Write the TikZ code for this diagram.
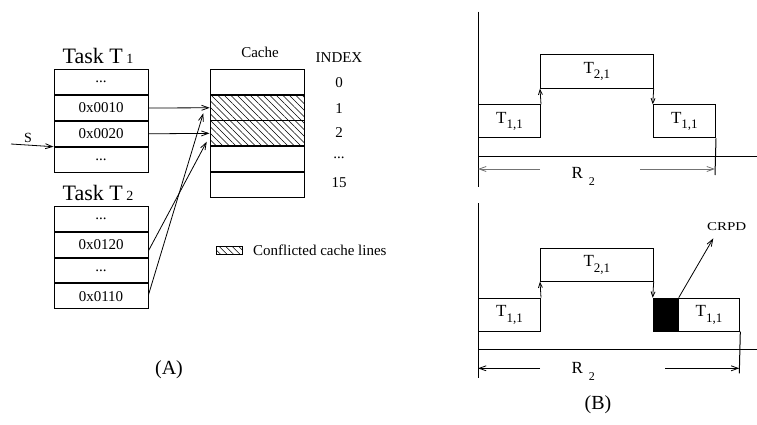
\documentclass[tikz,border=0pt]{standalone}
\usepackage{fontspec}
\setmainfont{Liberation Serif}
\usetikzlibrary{arrows.meta,patterns.meta,calc}
\newcommand{\fs}[1]{\fontsize{#1}{#1}\selectfont}
\newcommand{\tsub}[1]{T\raisebox{-5.5pt}{\fs{13}#1}}
\begin{document}
\begin{tikzpicture}[x=1pt,y=-1pt,
  row/.style={draw, line width=1pt, minimum width=94pt, minimum height=24.8pt, inner sep=0pt, anchor=north, font=\fs{15}},
  hatch/.style={pattern={Lines[angle=-45,distance=4.6pt,line width=0.55pt]}},
  barb/.style={-{Straight Barb[length=7pt,width=5pt]}, line width=0.8pt},
  sbarb/.style={-{Straight Barb[length=5pt,width=4pt]}, line width=0.8pt},
  lbl/.style={inner sep=0pt, font=\fs{15}},
  tbox/.style={draw, line width=1pt, inner sep=0pt, anchor=north west, font=\fs{17}},
  axis/.style={line width=1pt},
]
\useasboundingbox (0,0) rectangle (757,424);

% ---------- Panel A ----------
\node[inner sep=0pt] (lt1) at (98,56) {\fs{22}Task T\,{\fs{14}1}};
\node[row] (t1a) at (101,69.3) {...};
\node[row] (t1b) at (t1a.south) {0x0010};
\node[row] (t1c) at (t1b.south) {0x0020};
\node[row] (t1d) at (t1c.south) {...};

\node[inner sep=0pt] (lt2) at (98,193) {\fs{22}Task T\,{\fs{14}2}};
\node[row] (t2a) at (101,206) {...};
\node[row] (t2b) at (t2a.south) {0x0120};
\node[row] (t2c) at (t2b.south) {...};
\node[row] (t2d) at (t2c.south) {0x0110};

\node[lbl] (lc) at (260,52.7) {Cache};
\node[lbl] (lidx) at (339,58) {INDEX};
\node[row] (c0) at (257,69.3) {};
\node[row,hatch] (c1) at (c0.south) {};
\node[row,hatch] (c2) at (c1.south) {};
\node[row] (c3) at (c2.south) {};
\node[row] (c4) at (c3.south) {};

\node[lbl] (i0) at (339,83) {0};
\node[lbl] (i1) at (339,109) {1};
\node[lbl] (i2) at (339,133) {2};
\node[lbl] (i3) at (339,158) {...};
\node[lbl] (i4) at (339,183) {15};

\node[draw, hatch, line width=0.7pt, minimum width=26pt, minimum height=8pt, inner sep=0pt] (leg) at (229,250) {};
\node[lbl, anchor=west] (legt) at (253,250) {Conflicted cache lines};

\coordinate (s0) at (11,144);
\node[lbl, font=\fs{14}] (slbl) at (28,138) {S};
\draw[barb] (s0) -- (t1d.north west);

\draw[barb] (t1b.east) -- (c1.west);
\draw[barb] (t1c.east) -- (c2.west);
\coordinate (h1) at (203.3,113.3);
\coordinate (h2) at (206.7,141.7);
\draw[barb] ($(t2b.east)+(0,6)$) -- (h2);
\draw[barb] ($(t2d.east)+(0,-1.5)$) -- (h1);

\node[inner sep=0pt, font=\fs{20}] (la) at (169,370) {(A)};

% ---------- Panel B top ----------
\coordinate (ta0) at (478,11.7);
\coordinate (ta1) at (478,186.7);
\coordinate (th0) at (478,156);
\coordinate (th1) at (757,156);
\draw[axis] (ta0) -- (ta1);
\draw[axis] (th0) -- (th1);

\node[tbox, minimum width=62pt, minimum height=33pt] (a1) at (478,104.3) {\tsub{1,1}};
\node[tbox, minimum width=112.7pt, minimum height=33.7pt] (b1) at (540,54) {\tsub{2,1}};
\node[tbox, minimum width=62.3pt, minimum height=33pt] (a2) at (652.7,104.3) {\tsub{1,1}};
\draw[sbarb] (a1.north east) -- (b1.south west);
\draw[sbarb] (b1.south east) -- (a2.north west);
\coordinate (tv1) at (715,175);
\draw[axis] (a2.south east) -- (tv1);

\coordinate (tr0) at (540,169);
\coordinate (tr1) at (478,169);
\coordinate (tr2) at (640,169);
\coordinate (tr3) at (715,169);
\draw[barb, black!55] (tr0) -- (tr1);
\draw[barb, black!55] (tr2) -- (tr3);
\node[inner sep=0pt, anchor=base west, font=\fs{17}] (rt) at (571.3,178.3) {R\hspace{6pt}\raisebox{-7pt}{\fs{12}2}};

% ---------- Panel B bottom ----------
\coordinate (ba0) at (478,203);
\coordinate (ba1) at (478,378);
\coordinate (bh0) at (478,349.3);
\coordinate (bh1) at (757,349.3);
\draw[axis] (ba0) -- (ba1);
\draw[axis] (bh0) -- (bh1);

\node[tbox, minimum width=62pt, minimum height=33pt] (c1b) at (478,297.7) {\tsub{1,1}};
\node[tbox, minimum width=112.7pt, minimum height=33pt] (d1) at (540,247.7) {\tsub{2,1}};
\node[tbox, fill=black, minimum width=25pt, minimum height=33pt] (blk) at (652.7,297.7) {};
\node[tbox, minimum width=61.6pt, minimum height=33pt] (c2b) at (677.7,297.7) {\tsub{1,1}};
\draw[sbarb] (c1b.north east) -- (d1.south west);
\draw[sbarb] (d1.south east) -- (blk.north west);
\coordinate (bv1) at (739.3,373.3);
\draw[axis] (c2b.south east) -- (bv1);

\coordinate (br0) at (540,368.3);
\coordinate (br1) at (478,368.3);
\coordinate (br2) at (665,368.3);
\coordinate (br3) at (739.3,368.3);
\draw[barb] (br0) -- (br1);
\draw[barb] (br2) -- (br3);
\node[inner sep=0pt, anchor=base west, font=\fs{17}] (rb) at (571.3,373.3) {R\hspace{6pt}\raisebox{-7pt}{\fs{12}2}};

\node[inner sep=0pt, font=\fs{12}] (crpd) at (726.7,226.7) {\scalebox{1.25}[1]{CRPD}};
\coordinate (ct) at (713.3,238.3);
\draw[barb] (blk.north east) -- (ct);

\node[inner sep=0pt, font=\fs{20}] (lb) at (598,405) {(B)};
\end{tikzpicture}
\end{document}
